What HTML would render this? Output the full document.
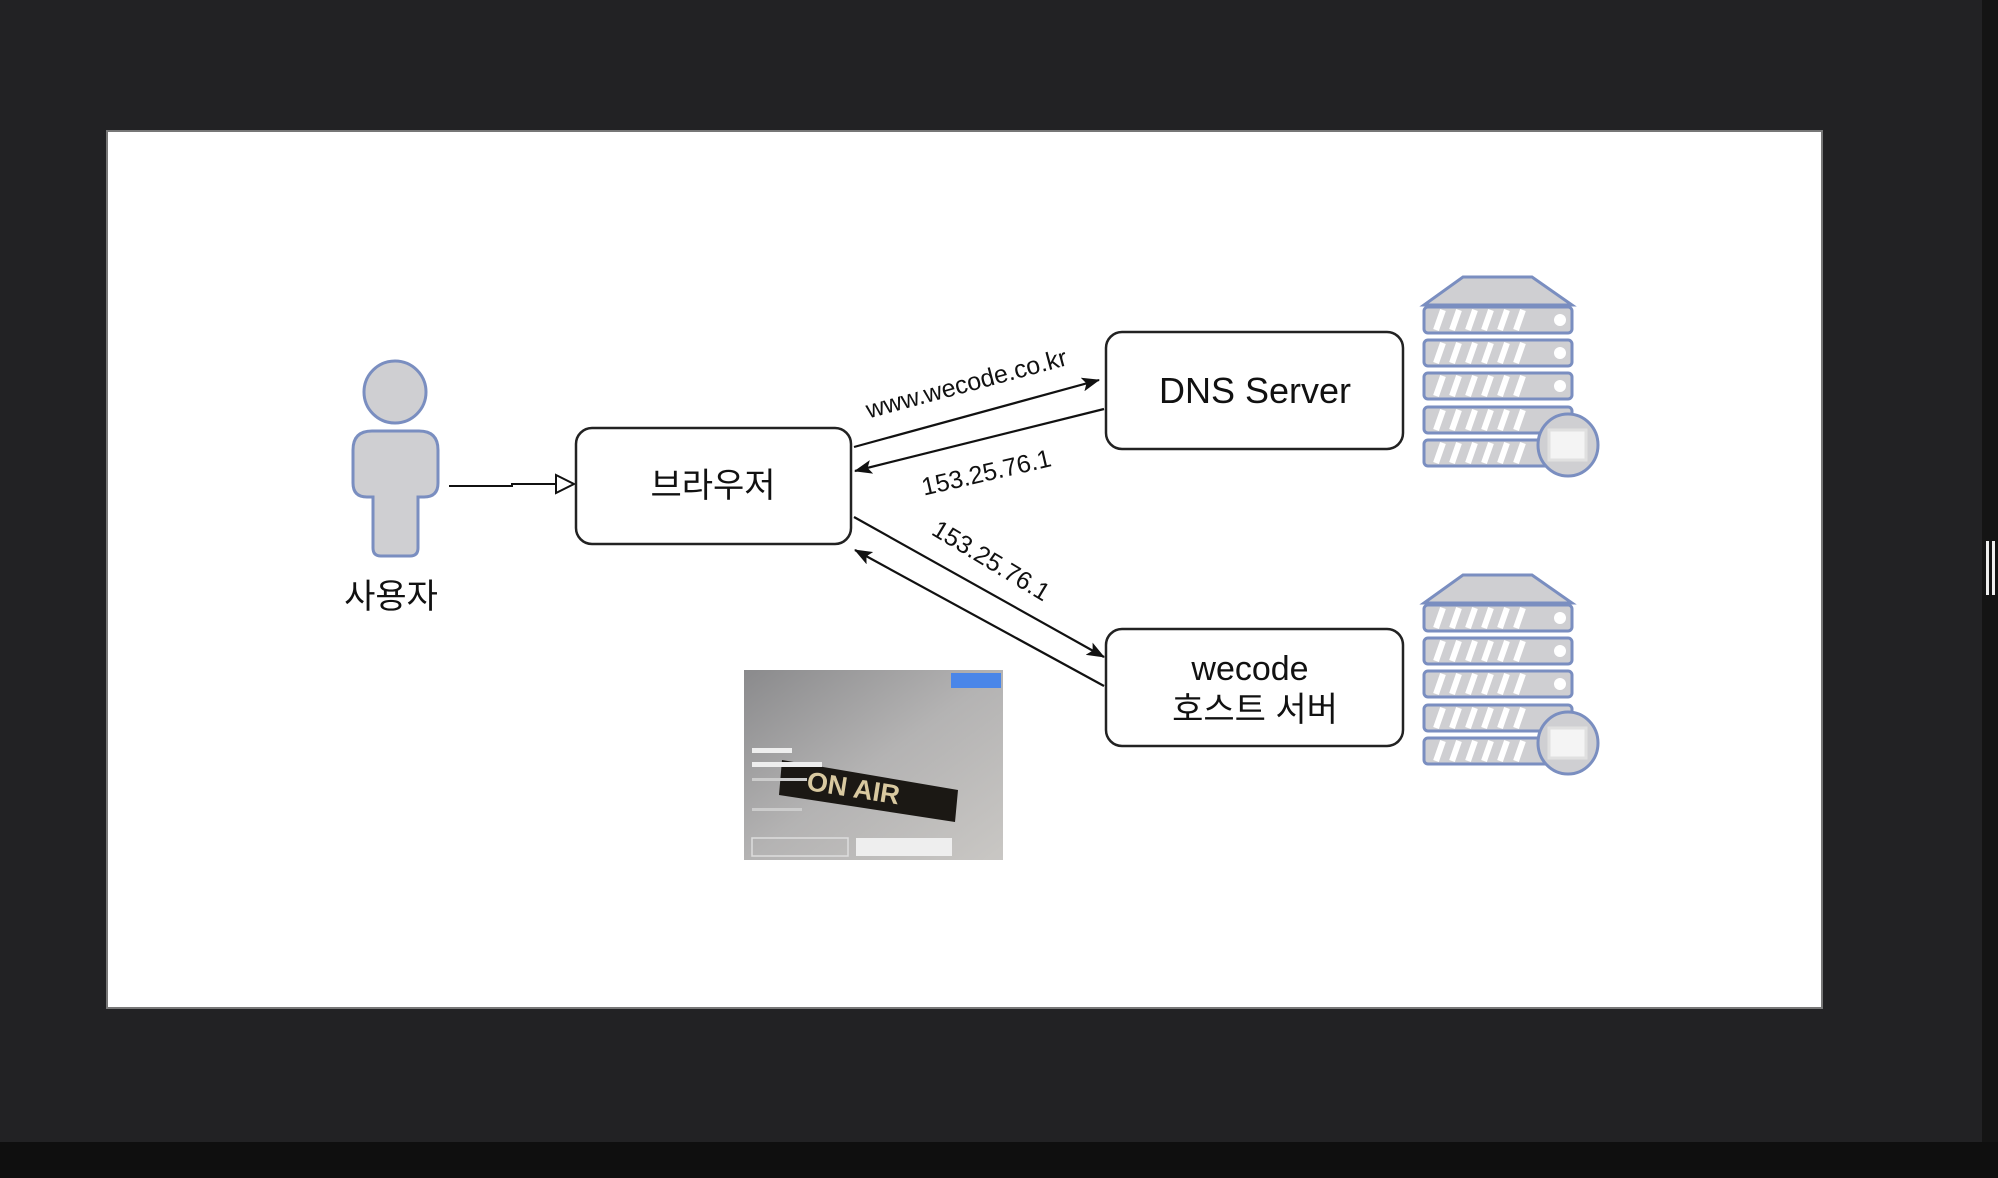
<!DOCTYPE html>
<html><head><meta charset="utf-8"><style>
html,body{margin:0;padding:0;background:#222224;}
svg{display:block}
text{font-family:"Liberation Sans","Noto Sans CJK KR",sans-serif;fill:#111}
</style></head><body>
<svg width="1998" height="1178" viewBox="0 0 1998 1178" xmlns="http://www.w3.org/2000/svg">
<defs>
<marker id="ah" markerWidth="18" markerHeight="14" refX="17" refY="7" orient="auto" markerUnits="userSpaceOnUse"><path d="M0,0 L18,7 L0,14 L4,7 Z" fill="#111"/></marker>
<g id="srv">
  <path d="M83,17 L152,17 L192,45 L44,45 Z" fill="#cfcfd2" stroke="#7a8ec0" stroke-width="3"/>
  <g fill="#cfcfd2" stroke="#7a8ec0" stroke-width="3">
    <rect x="44" y="47" width="148" height="26" rx="4"/>
    <rect x="44" y="80" width="148" height="26" rx="4"/>
    <rect x="44" y="113" width="148" height="26" rx="4"/>
    <rect x="44" y="147" width="148" height="26" rx="4"/>
    <rect x="44" y="180" width="148" height="26" rx="4"/>
  </g>
  <g stroke="#fff" stroke-width="6">
    <path d="M56,70 L63,50 M72,70 L79,50 M88,70 L95,50 M104,70 L111,50 M120,70 L127,50 M136,70 L143,50"/>
    <path d="M56,103 L63,83 M72,103 L79,83 M88,103 L95,83 M104,103 L111,83 M120,103 L127,83 M136,103 L143,83"/>
    <path d="M56,136 L63,116 M72,136 L79,116 M88,136 L95,116 M104,136 L111,116 M120,136 L127,116 M136,136 L143,116"/>
    <path d="M56,170 L63,150 M72,170 L79,150 M88,170 L95,150 M104,170 L111,150 M120,170 L127,150 M136,170 L143,150"/>
    <path d="M56,203 L63,183 M72,203 L79,183 M88,203 L95,183 M104,203 L111,183 M120,203 L127,183 M136,203 L143,183"/>
  </g>
  <circle cx="180" cy="60" r="6" fill="#fff"/>
  <circle cx="180" cy="93" r="6" fill="#fff"/>
  <circle cx="180" cy="126" r="6" fill="#fff"/>
  <ellipse cx="188" cy="185" rx="30" ry="31" fill="#cfcfd2" stroke="#7a8ec0" stroke-width="3"/>
  <rect x="169" y="170" width="37" height="30" fill="#f4f4f4" stroke="#e0e0e0" stroke-width="3"/>
</g>
</defs>
<rect x="0" y="0" width="1998" height="1178" fill="#222224"/>
<rect x="1982" y="0" width="16" height="1178" fill="#141414"/>
<rect x="0" y="1142" width="1998" height="36" fill="#0f0f0f"/>
<rect x="1986" y="541" width="3" height="54" fill="#eee"/><rect x="1992" y="541" width="3" height="54" fill="#eee"/>
<rect x="107" y="131" width="1715" height="877" fill="#fff" stroke="#777" stroke-width="2"/>

<!-- person -->
<circle cx="395" cy="392" r="31" fill="#cfcfd2" stroke="#7a8ec0" stroke-width="3"/>
<path d="M372,431 L419,431 Q438,431 438,450 L438,483 Q438,497 424,497 L418,497 L418,548 Q418,556 410,556 L381,556 Q373,556 373,548 L373,497 L367,497 Q353,497 353,483 L353,450 Q353,431 372,431 Z" fill="#cfcfd2" stroke="#7a8ec0" stroke-width="3"/>
<text x="391" y="608" font-size="34" text-anchor="middle">사용자</text>

<path d="M449,486 L512,486 L512,484 L558,484" fill="none" stroke="#111" stroke-width="2"/>
<path d="M556,475 L574,484 L556,493 Z" fill="#fff" stroke="#111" stroke-width="2"/>

<!-- boxes -->
<rect x="576" y="428" width="275" height="116" rx="16" fill="#fff" stroke="#222" stroke-width="2.5"/>
<text x="713" y="497" font-size="34" text-anchor="middle">브라우저</text>
<rect x="1106" y="332" width="297" height="117" rx="16" fill="#fff" stroke="#222" stroke-width="2.5"/>
<text x="1255" y="403" font-size="36" text-anchor="middle">DNS Server</text>
<rect x="1106" y="629" width="297" height="117" rx="16" fill="#fff" stroke="#222" stroke-width="2.5"/>
<text x="1250" y="680" font-size="34" text-anchor="middle">wecode</text>
<text x="1255" y="721" font-size="34" text-anchor="middle">호스트 서버</text>

<!-- arrows -->
<g stroke="#111" stroke-width="2.2" fill="none">
<line x1="854" y1="447" x2="1099" y2="380" marker-end="url(#ah)"/>
<line x1="1104" y1="409" x2="855" y2="471" marker-end="url(#ah)"/>
<line x1="854" y1="517" x2="1104" y2="657" marker-end="url(#ah)"/>
<line x1="1104" y1="686" x2="855" y2="550" marker-end="url(#ah)"/>
</g>
<text x="966" y="392" font-size="25" text-anchor="middle" transform="rotate(-15 966 382)">www.wecode.co.kr</text>
<text x="986" y="481" font-size="25" text-anchor="middle" transform="rotate(-13 986 471)">153.25.76.1</text>
<text x="991" y="569" font-size="25" text-anchor="middle" transform="rotate(31 991 561)">153.25.76.1</text>

<use href="#srv" x="1380" y="260"/>
<use href="#srv" x="1380" y="558"/>

<!-- screenshot -->
<defs><linearGradient id="ph" x1="0" y1="0" x2="1" y2="1"><stop offset="0" stop-color="#8a8a8c"/><stop offset="0.5" stop-color="#b4b3b3"/><stop offset="1" stop-color="#c9c7c4"/></linearGradient></defs>
<rect x="744" y="670" width="259" height="190" fill="url(#ph)"/>
<rect x="951" y="673" width="50" height="15" fill="#4a86e8"/>
<path d="M782,760 L958,790 L955,822 L779,795 Z" fill="#1b1814"/>
<text x="805" y="800" font-size="27" font-weight="bold" style="fill:#d9c9a0" transform="rotate(9 870 800)">ON AIR</text>
<g fill="#eee"><rect x="752" y="748" width="40" height="5"/><rect x="752" y="762" width="70" height="5"/><rect x="752" y="778" width="55" height="3" fill="#ccc"/><rect x="752" y="808" width="50" height="3" fill="#ccc"/></g>
<rect x="752" y="838" width="96" height="18" fill="none" stroke="#ddd" stroke-width="1.5"/>
<rect x="856" y="838" width="96" height="18" fill="#eee"/>
</svg>
</body></html>
